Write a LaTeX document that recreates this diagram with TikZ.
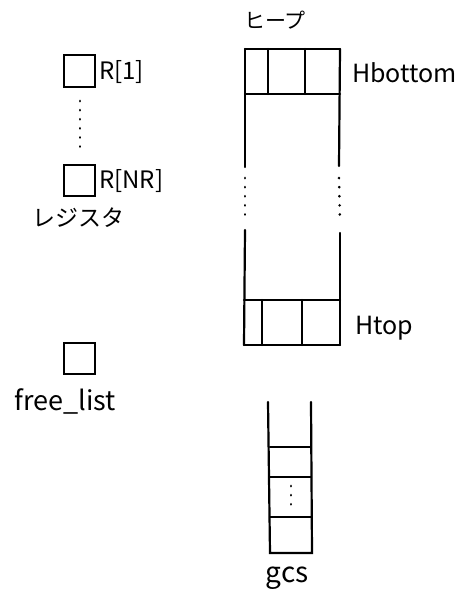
\documentclass[tikz,border=0pt]{standalone}
\usepackage{fontspec}
\setmainfont{Noto Sans CJK JP}
\begin{document}
\begin{tikzpicture}[x=1pt,y=-1pt,
  ln/.style={line width=2.2pt,line cap=round},
  lbl/.style={font=\fontsize{24}{26}\selectfont,inner sep=0pt},
  reg/.style={draw,line width=2pt,minimum width=31pt,minimum height=31pt,inner sep=0pt},
  dotsty/.style={line width=2.8pt,dash pattern=on 0.1pt off 9pt,line cap=round}]
\useasboundingbox (0,0) rectangle (458,602);
% registers
\node[reg] (r1) at (79,71) {};
\node[lbl,anchor=west] (r1l) at (99,72) {R[1]};
\node[reg] (rn) at (79,180) {};
\node[lbl,anchor=west] (rnl) at (99,181) {R[NR]};
\draw[dotsty] (80,101) -- (80,150);
\node[lbl,anchor=west,font=\fontsize{23}{25}\selectfont] (regl) at (32,218) {レジスタ};
% free list
\node[reg] (fl) at (79,358) {};
\node[lbl,font=\fontsize{27}{29}\selectfont] (fll) at (65,401) {free\_list};
% heap
\node[lbl,anchor=west,font=\fontsize{21}{23}\selectfont] (heapl) at (244,20) {ヒープ};
\draw[ln] (245,49) -- (340,49);
\draw[ln] (245,94) -- (340,94);
\draw[ln] (268,49) -- (268,94);
\draw[ln] (305,49) -- (305,94);
\draw[ln] (245,49) -- (245,167);
\draw[ln] (340,49) -- (339,166);
\draw[dotsty] (245,178) -- (245,222);
\draw[dotsty] (339,178) -- (340,222);
\draw[ln] (245,230) -- (244,345);
\draw[ln] (340,233) -- (340,345);
\draw[ln] (244,300) -- (340,300);
\draw[ln] (244,345) -- (340,345);
\draw[ln] (262,300) -- (262,345);
\draw[ln] (302,300) -- (302,345);
\node[lbl,anchor=west,font=\fontsize{25}{27}\selectfont] (hb) at (352,73) {Hbottom};
\node[lbl,anchor=west,font=\fontsize{25}{27}\selectfont] (ht) at (355,328) {Htop};
% gcs
\draw[ln] (268,402) -- (270,553) -- (312,553) -- (311,402);
\draw[ln] (270,447) -- (310,447);
\draw[ln] (270,477) -- (311,477);
\draw[ln] (270,517) -- (311,517);
\draw[dotsty] (291,486) -- (291,510);
\node[lbl,font=\fontsize{28}{30}\selectfont] (gcs) at (287,578) {gcs};
\end{tikzpicture}
\end{document}
